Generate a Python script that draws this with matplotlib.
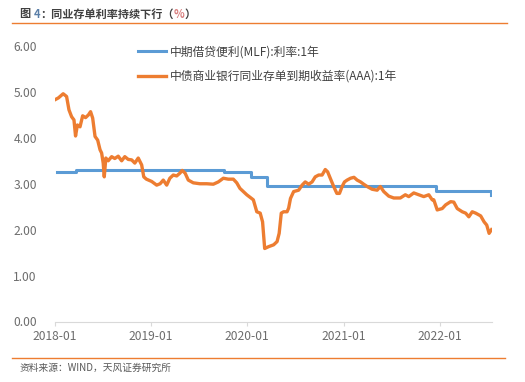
import matplotlib
matplotlib.use('Agg')
import matplotlib.pyplot as plt
import matplotlib.dates as mdates
from matplotlib.lines import Line2D
import numpy as np
import pandas as pd

plt.rcParams['font.family'] = ['Noto Sans CJK SC', 'DejaVu Sans']

# 中期借贷便利(MLF) 1年利率, 阶梯
mlf_dates = ['2018-01-10', '2018-03-21', '2019-10-05', '2020-01-15', '2020-03-16',
             '2021-12-16', '2022-07-13', '2022-07-16']
mlf_values = [3.25, 3.30, 3.25, 3.15, 2.95, 2.85, 2.75, 2.75]

# 中债商业银行同业存单到期收益率(AAA):1年
ncd_dates = ['2018-01-01', '2018-01-14', '2018-02-01', '2018-02-14', '2018-02-23',
             '2018-03-05', '2018-03-14', '2018-03-20', '2018-03-27', '2018-04-06',
             '2018-04-16', '2018-04-27', '2018-05-08', '2018-05-16', '2018-05-24',
             '2018-06-02', '2018-06-12', '2018-06-21', '2018-06-27', '2018-07-03',
             '2018-07-07', '2018-07-13', '2018-07-22', '2018-08-04', '2018-08-16',
             '2018-08-29', '2018-09-11', '2018-09-23', '2018-10-06', '2018-10-19',
             '2018-10-31', '2018-11-13', '2018-11-26', '2018-12-04', '2018-12-14',
             '2019-01-03', '2019-01-22', '2019-02-04', '2019-02-16', '2019-03-01',
             '2019-03-13', '2019-03-26', '2019-04-08', '2019-04-20', '2019-04-29',
             '2019-05-10', '2019-05-22', '2019-06-10', '2019-07-05', '2019-07-31',
             '2019-08-25', '2019-09-13', '2019-10-02', '2019-10-21', '2019-11-09',
             '2019-11-22', '2019-12-04', '2019-12-30', '2020-01-24', '2020-02-06',
             '2020-02-19', '2020-02-28', '2020-03-07', '2020-03-22', '2020-04-10',
             '2020-04-23', '2020-05-01', '2020-05-09', '2020-05-18', '2020-05-31',
             '2020-06-06', '2020-06-13', '2020-06-25', '2020-07-14', '2020-07-27',
             '2020-08-08', '2020-08-21', '2020-09-03', '2020-09-15', '2020-09-28',
             '2020-10-11', '2020-10-23', '2020-11-01', '2020-11-11', '2020-11-24',
             '2020-12-06', '2020-12-16', '2020-12-26', '2021-01-04', '2021-01-14',
             '2021-01-27', '2021-02-09', '2021-02-21', '2021-03-06', '2021-03-18',
             '2021-03-31', '2021-04-19', '2021-05-08', '2021-05-20', '2021-06-02',
             '2021-06-21', '2021-07-10', '2021-08-04', '2021-08-23', '2021-09-05',
             '2021-09-24', '2021-10-13', '2021-11-01', '2021-11-20', '2021-12-03',
             '2021-12-09', '2021-12-22', '2022-01-10', '2022-01-23', '2022-02-11',
             '2022-02-23', '2022-03-08', '2022-03-27', '2022-04-09', '2022-04-21',
             '2022-05-04', '2022-05-17', '2022-06-05', '2022-06-18', '2022-06-28',
             '2022-07-07', '2022-07-16']
ncd_values = [4.83, 4.87, 4.96, 4.90, 4.61, 4.46, 4.39, 4.04, 4.28, 4.24,
              4.48, 4.44, 4.50, 4.57, 4.43, 4.03, 3.95, 3.74, 3.67, 3.45,
              3.15, 3.56, 3.50, 3.59, 3.55, 3.60, 3.50, 3.59, 3.53, 3.52,
              3.45, 3.56, 3.41, 3.15, 3.10, 3.05, 2.97, 3.00, 3.08, 2.97,
              3.12, 3.19, 3.17, 3.23, 3.29, 3.23, 3.08, 3.02, 3.00, 3.00,
              2.99, 3.04, 3.12, 3.10, 3.10, 3.02, 2.90, 2.76, 2.65, 2.39,
              2.36, 2.17, 1.59, 1.63, 1.67, 1.74, 1.92, 2.36, 2.39, 2.39,
              2.47, 2.68, 2.83, 2.86, 2.97, 3.04, 2.99, 3.04, 3.15, 3.19,
              3.19, 3.31, 3.26, 3.12, 2.94, 2.79, 2.79, 2.94, 3.04, 3.08,
              3.12, 3.14, 3.08, 3.04, 2.99, 2.94, 2.88, 2.86, 2.94, 2.83,
              2.73, 2.69, 2.69, 2.76, 2.72, 2.80, 2.76, 2.72, 2.76, 2.65,
              2.65, 2.43, 2.46, 2.54, 2.61, 2.60, 2.46, 2.39, 2.36, 2.28,
              2.39, 2.36, 2.30, 2.17, 2.10, 1.92, 2.00]

y_ticks = [0, 1, 2, 3, 4, 5, 6]
x_ticks = ['2018-01-01', '2019-01-01', '2020-01-01', '2021-01-01', '2022-01-01']

blue = '#5B9BD5'
orange = '#ED7D31'
grey = '#6d6d6d'

fig = plt.figure(figsize=(5.25, 3.82), dpi=100)
W, H = 525, 382
ax = fig.add_axes([55 / W, 1 - 321.5 / H, (492 - 55) / W, (321.5 - 46) / H])

ax.plot(pd.to_datetime(mlf_dates), mlf_values, color=blue, lw=2.2,
        drawstyle='steps-post', label='中期借贷便利(MLF):利率:1年')
ax.plot(pd.to_datetime(ncd_dates), ncd_values, color=orange, lw=2.4,
        label='中债商业银行同业存单到期收益率(AAA):1年')

ax.set_xlim(pd.Timestamp('2018-01-01'), pd.Timestamp('2022-07-18'))
ax.set_ylim(0, 6)
ax.set_yticks(y_ticks)
ax.set_yticklabels([f'{v:.2f}' for v in y_ticks])
ax.set_xticks(pd.to_datetime(x_ticks))
ax.xaxis.set_major_formatter(mdates.DateFormatter('%Y-%m'))

for s in ['top', 'right', 'left']:
    ax.spines[s].set_visible(False)
ax.spines['bottom'].set_color('#d9d9d9')
ax.spines['bottom'].set_linewidth(0.8)
ax.tick_params(axis='y', length=0, pad=13, labelsize=8.7, labelcolor=grey)
ax.tick_params(axis='x', length=3, color='#d9d9d9', pad=3, labelsize=8.7, labelcolor=grey)

leg = ax.legend(loc='upper left', bbox_to_anchor=((127 - 55) / (492 - 55), 1.04),
                frameon=False, fontsize=8.5, handlelength=2.4, handletextpad=0.3,
                labelspacing=0.95, labelcolor='#404040')

# 标题与来源
fig.add_artist(Line2D([12 / W, 507 / W], [1 - 23.3 / H] * 2, color=orange, lw=1.0))
fig.add_artist(Line2D([12 / W, 505 / W], [1 - 357.7 / H] * 2, color=orange, lw=1.0))

title_parts = [('图 ', '#404040'), ('4', '#5a7fa8'), ('：同业存单利率持续下行（', '#404040'),
               ('%', '#d98080'), ('）', '#404040')]
fig.canvas.draw()
renderer = fig.canvas.get_renderer()
x = 20 / W
for txt, col in title_parts:
    t = fig.text(x, 1 - 14 / H, txt, fontsize=8, fontweight='bold', color=col,
                 ha='left', va='center')
    bb = t.get_window_extent(renderer)
    x += bb.width / (W * fig.dpi / 100)

fig.text(20 / W, 1 - 367.5 / H, '资料来源：WIND，天风证券研究所', fontsize=7,
         color='#595959', ha='left', va='center')

fig.savefig('out.png', dpi=100)
